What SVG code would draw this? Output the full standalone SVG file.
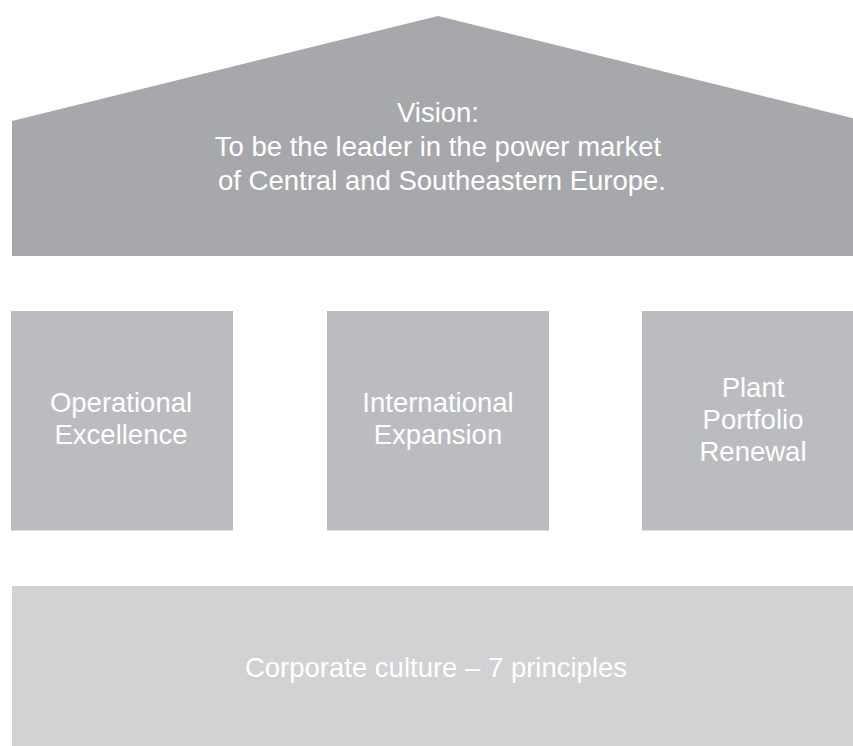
<svg xmlns="http://www.w3.org/2000/svg" width="853" height="746" viewBox="0 0 853 746">
<style>
.t{font-family:"Liberation Sans",Arial,Helvetica,sans-serif;font-size:27.5px;fill:#ffffff;text-anchor:middle}
.roof{fill:#a7a8ab}
.pillar{fill:#bbbcbf}
.base{fill:#d1d2d4}
</style>
<rect width="853" height="746" fill="#ffffff"/>
<g id="vision">
<polygon class="roof" points="12,121 438,16 864,121 864,256 12,256"/>
<text class="t" x="438" y="122">Vision:</text>
<text class="t" x="438" y="155.5">To be the leader in the power market</text>
<text class="t" x="442" y="189.5">of Central and Southeastern Europe.</text>
</g>
<g id="operational-excellence">
<rect class="pillar" x="11" y="311" width="222" height="219.5"/>
<text class="t" x="121" y="411.5">Operational</text>
<text class="t" x="121" y="444">Excellence</text>
</g>
<g id="international-expansion">
<rect class="pillar" x="327" y="311" width="222" height="219.5"/>
<text class="t" x="438" y="411.5">International</text>
<text class="t" x="438" y="444">Expansion</text>
</g>
<g id="plant-portfolio-renewal">
<rect class="pillar" x="642" y="311" width="222" height="219.5"/>
<text class="t" x="753" y="396.5">Plant</text>
<text class="t" x="753" y="428.5">Portfolio</text>
<text class="t" x="753" y="460.5">Renewal</text>
</g>
<g id="corporate-culture">
<rect class="base" x="12" y="586" width="852" height="160"/>
<text class="t" x="436" y="677">Corporate culture – 7 principles</text>
</g>
<g id="connectors"></g>
</svg>
